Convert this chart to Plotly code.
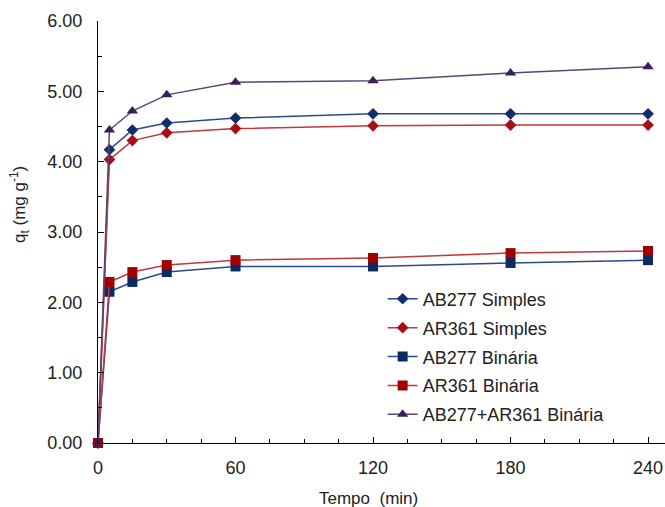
import plotly.graph_objects as go

tempo = [0, 5, 15, 30, 60, 120, 180, 240]
ab277_simples = [0, 4.17, 4.45, 4.55, 4.62, 4.68, 4.68, 4.68]
ar361_simples = [0, 4.03, 4.30, 4.41, 4.47, 4.51, 4.52, 4.52]
ab277_binaria = [0, 2.15, 2.29, 2.43, 2.51, 2.51, 2.56, 2.60]
ar361_binaria = [0, 2.29, 2.43, 2.53, 2.60, 2.63, 2.70, 2.73]
ab_ar_binaria = [0, 4.45, 4.72, 4.95, 5.13, 5.15, 5.26, 5.35]

series = [
    ("AB277 Simples", ab277_simples, "#2B4A8B", "#0F2E6E", "diamond", 9),
    ("AR361 Simples", ar361_simples, "#C0393B", "#A50F15", "diamond", 9),
    ("AB277 Binária", ab277_binaria, "#2B4A8B", "#0B2A63", "square", 10),
    ("AR361 Binária", ar361_binaria, "#C0393B", "#A00000", "square", 10),
    ("AB277+AR361 Binária", ab_ar_binaria, "#5A4576", "#3B1F5A", "triangle-up", 10),
]

fig = go.Figure()
for i, (name, vals, lc, mc, sym, sz) in enumerate(series):
    fig.add_trace(go.Scatter(
        x=tempo, y=vals, name=name, mode="lines+markers",
        line=dict(color=lc, width=1.5),
        marker=dict(symbol=sym, size=sz, color=mc),
        cliponaxis=False, legendgroup=f"g{i}",
    ))

font = "Arial, Liberation Sans, sans-serif"
fig.update_layout(
    width=665, height=507,
    margin=dict(l=98, r=0, t=21, b=64, autoexpand=False),
    paper_bgcolor="white", plot_bgcolor="white",
    font=dict(family=font, size=18, color="#222"),
    showlegend=True,
    legend=dict(x=0.502, y=0.385, xanchor="left", yanchor="top",
                font=dict(size=18, color="#222"), bgcolor="rgba(0,0,0,0)",
                tracegroupgap=2.5, itemwidth=30),
    xaxis=dict(range=[0, 247.4], tickvals=[0, 60, 120, 180, 240],
               showline=True, linecolor="black", linewidth=1,
               ticks="inside", ticklen=6, tickcolor="black",
               minor=dict(dtick=15, tick0=0, ticks="inside", ticklen=4, tickcolor="black"),
               showgrid=False, zeroline=False, automargin=False,
               ticklabelstandoff=8),
    yaxis=dict(range=[0, 6], tickvals=[0, 1, 2, 3, 4, 5, 6], tickformat=".2f",
               showline=True, linecolor="black", linewidth=1,
               ticks="inside", ticklen=6, tickcolor="black",
               minor=dict(dtick=0.5, tick0=0, ticks="inside", ticklen=4, tickcolor="black"),
               showgrid=False, zeroline=False, automargin=False,
               ticklabelstandoff=11),
    annotations=[
        dict(text="Tempo&nbsp; (min)", xref="paper", yref="paper",
             x=(368 - 98) / 567, y=(443 - 498) / 422, xanchor="center", yanchor="middle",
             showarrow=False, font=dict(size=17, color="#222")),
        dict(text="q<sub>t</sub> (mg g<sup>-1</sup>)", xref="paper", yref="paper",
             x=(20 - 98) / 567, y=(443 - 205) / 422, xanchor="center", yanchor="middle",
             textangle=-90, showarrow=False, font=dict(size=17, color="#222")),
    ],
)

fig.write_html(
    "out.html",
    config={"displayModeBar": False},
    post_script="document.body.style.margin='0';document.documentElement.style.overflow='hidden';",
)
